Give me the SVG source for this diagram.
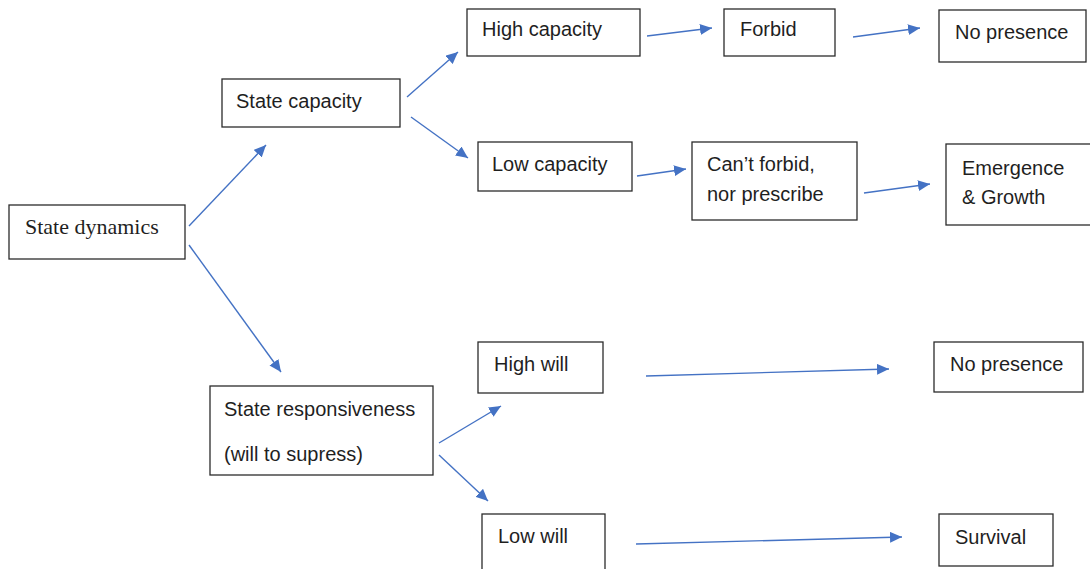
<svg xmlns="http://www.w3.org/2000/svg" width="1090" height="569" viewBox="0 0 1090 569">
<style>
.box{fill:#fff;stroke:#2b2b2b;stroke-width:1.3}
.t{font-family:"Liberation Sans",Arial,sans-serif;font-size:20px;fill:#1f1f1f}
.s{font-family:"Liberation Serif","Times New Roman",serif;font-size:22px;fill:#1f1f1f}
.c line{stroke:#4472c4;stroke-width:1.4;marker-end:url(#ah)}
</style>
<defs>
<marker id="ah" viewBox="0 0 12 11" refX="12" refY="5.5" markerWidth="12" markerHeight="11" markerUnits="userSpaceOnUse" orient="auto">
<path d="M0,0 L12,5.5 L0,11 z" fill="#4472c4"/>
</marker>
</defs>
<rect width="1090" height="569" fill="#fff"/>
<g class="c" id="connectors">
<line x1="189" y1="226" x2="266" y2="145"/>
<line x1="189" y1="245" x2="281" y2="372"/>
<line x1="407" y1="97" x2="458" y2="52"/>
<line x1="411" y1="117" x2="468" y2="158"/>
<line x1="647" y1="36" x2="712" y2="28"/>
<line x1="637" y1="176" x2="686" y2="169"/>
<line x1="853" y1="37" x2="920" y2="28"/>
<line x1="864" y1="193" x2="930" y2="184"/>
<line x1="439" y1="443" x2="501" y2="406"/>
<line x1="439" y1="455" x2="488" y2="501"/>
<line x1="646" y1="376" x2="889" y2="369"/>
<line x1="636" y1="544" x2="902" y2="537"/>
</g>
<g id="state-dynamics"><rect class="box" x="9" y="205" width="176" height="54"/><text class="s" x="25" y="234">State dynamics</text></g>
<g id="state-capacity"><rect class="box" x="222" y="79" width="178" height="48"/><text class="t" x="236" y="108">State capacity</text></g>
<g id="high-capacity"><rect class="box" x="467" y="9" width="173" height="47"/><text class="t" x="482" y="36">High capacity</text></g>
<g id="low-capacity"><rect class="box" x="478" y="142" width="154" height="49"/><text class="t" x="492" y="171">Low capacity</text></g>
<g id="forbid"><rect class="box" x="724" y="9" width="111" height="47"/><text class="t" x="740" y="36">Forbid</text></g>
<g id="cant-forbid"><rect class="box" x="692" y="142" width="165" height="78"/><text class="t" x="707" y="171">Can’t forbid,</text><text class="t" x="707" y="201">nor prescribe</text></g>
<g id="no-presence-1"><rect class="box" x="939" y="10" width="147" height="52"/><text class="t" x="955" y="39">No presence</text></g>
<g id="emergence"><rect class="box" x="946" y="144" width="150" height="81"/><text class="t" x="962" y="175">Emergence</text><text class="t" x="962" y="204">&amp; Growth</text></g>
<g id="state-responsiveness"><rect class="box" x="210" y="386" width="223" height="89"/><text class="t" x="224" y="416">State responsiveness</text><text class="t" x="224" y="461">(will to supress)</text></g>
<g id="high-will"><rect class="box" x="478" y="342" width="125" height="51"/><text class="t" x="494" y="371">High will</text></g>
<g id="low-will"><rect class="box" x="482" y="514" width="123" height="60"/><text class="t" x="498" y="543">Low will</text></g>
<g id="no-presence-2"><rect class="box" x="934" y="342" width="149" height="50"/><text class="t" x="950" y="371">No presence</text></g>
<g id="survival"><rect class="box" x="939" y="514" width="114" height="52"/><text class="t" x="955" y="544">Survival</text></g>
</svg>
